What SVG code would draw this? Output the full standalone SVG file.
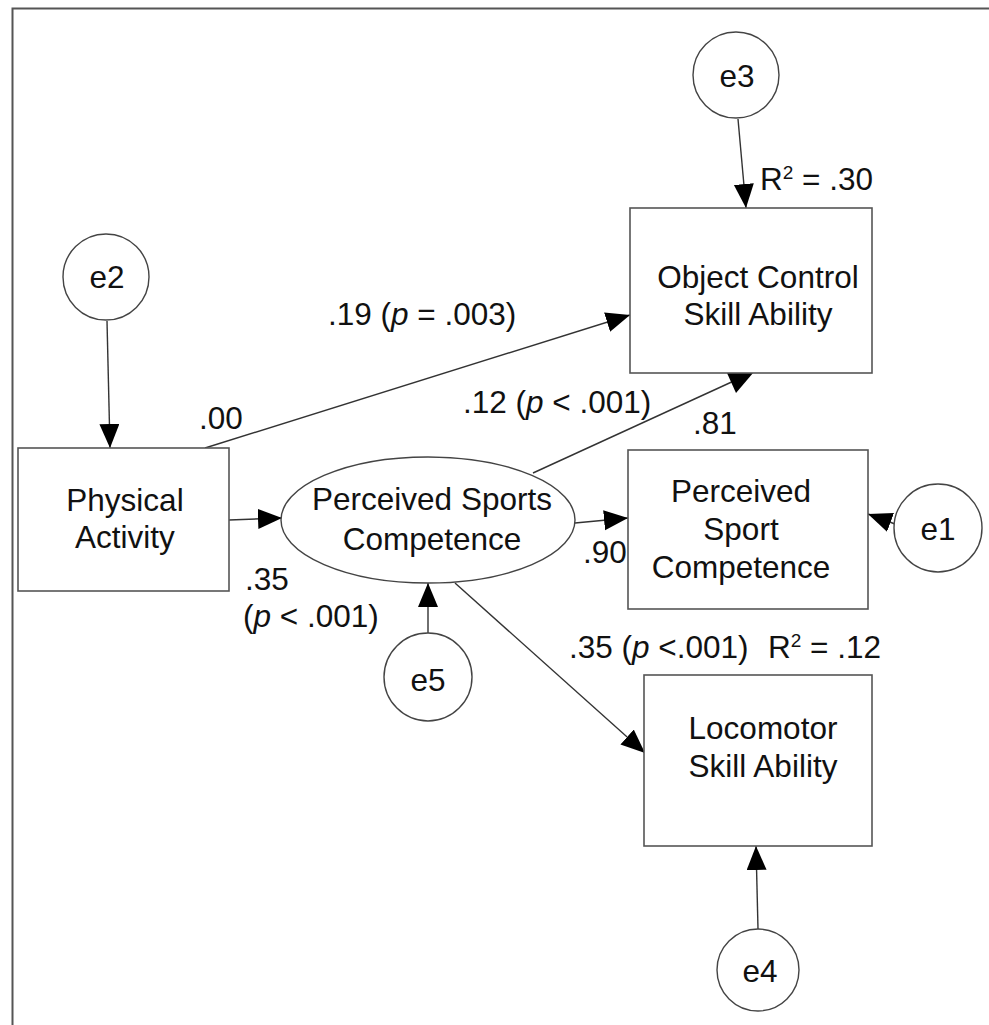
<svg xmlns="http://www.w3.org/2000/svg" width="989" height="1025" viewBox="0 0 989 1025">
<defs>
<marker id="ah" markerUnits="userSpaceOnUse" markerWidth="26" markerHeight="22" refX="24" refY="10" orient="auto">
<path d="M0,0 L24,10 L0,20 z" fill="#000"/>
</marker>
<style>
.t{font-family:"Liberation Sans",Arial,sans-serif;font-size:31.5px;fill:#111}
.m{text-anchor:middle}
.box{fill:#fff;stroke:#555;stroke-width:1.6}
.c{fill:#fff;stroke:#444;stroke-width:1.4}
.e{stroke:#333;stroke-width:1.4;fill:none}
.a{marker-end:url(#ah)}
</style>
</defs>
<rect width="989" height="1025" fill="#fff"/>
<path d="M12.5,1025 V8.5 H989" fill="none" stroke="#555" stroke-width="2"/>

<g id="connectors">
<line class="e a" x1="738" y1="119" x2="746" y2="208"/>
<line class="e a" x1="107" y1="321" x2="110" y2="448"/>
<line class="e a" x1="205" y1="448" x2="630" y2="315"/>
<line class="e a" x1="229" y1="520" x2="282" y2="518"/>
<line class="e" x1="533" y1="473" x2="736" y2="380"/>
<polygon points="727,373 753,373 736,393" fill="#000"/>
<line class="e a" x1="575" y1="523" x2="628" y2="518"/>
<line class="e a" x1="895" y1="524" x2="868" y2="514"/>
<line class="e a" x1="455" y1="583" x2="645" y2="753"/>
<line class="e a" x1="428" y1="633" x2="428" y2="583"/>
<line class="e a" x1="758" y1="929" x2="756" y2="846"/>
</g>

<g id="labels">
<text class="t" x="760" y="190">R<tspan dy="-11" font-size="19">2</tspan><tspan dy="11"> = .30</tspan></text>
<text class="t" x="328" y="325">.19 (<tspan font-style="italic">p</tspan> = .003)</text>
<text class="t" x="199" y="429">.00</text>
<text class="t" x="463" y="413">.12 (<tspan font-style="italic">p</tspan> &lt; .001)</text>
<text class="t" x="693" y="434">.81</text>
<text class="t" x="583" y="563">.90</text>
<text class="t" x="245" y="590">.35</text>
<text class="t" x="243" y="627">(<tspan font-style="italic">p</tspan> &lt; .001)</text>
<text class="t" x="569" y="658">.35 (<tspan font-style="italic">p</tspan> &lt;.001)</text>
<text class="t" x="768" y="658">R<tspan dy="-11" font-size="19">2</tspan><tspan dy="11"> = .12</tspan></text>
</g>

<g id="e3"><circle class="c" cx="736" cy="75" r="43"/><text class="t m" x="737" y="87">e3</text></g>
<g id="e2"><circle class="c" cx="106" cy="277" r="43"/><text class="t m" x="107" y="288">e2</text></g>
<g id="e1"><circle class="c" cx="938" cy="528" r="44"/><text class="t m" x="938" y="540">e1</text></g>
<g id="e5"><circle class="c" cx="428" cy="677" r="44"/><text class="t m" x="428" y="691">e5</text></g>
<g id="e4"><circle class="c" cx="758" cy="970" r="41"/><text class="t m" x="760" y="982">e4</text></g>

<g id="object-control"><rect class="box" x="630" y="208" width="242" height="165"/>
<text class="t m" x="758" y="288">Object Control</text><text class="t m" x="758" y="325">Skill Ability</text></g>
<g id="physical-activity"><rect class="box" x="18" y="448" width="211" height="143"/>
<text class="t m" x="125" y="511">Physical</text><text class="t m" x="125" y="548">Activity</text></g>
<g id="perceived-sports-competence"><ellipse class="c" cx="428" cy="520" rx="147" ry="63"/>
<text class="t m" x="432" y="510">Perceived Sports</text><text class="t m" x="432" y="550">Competence</text></g>
<g id="perceived-sport-competence"><rect class="box" x="628" y="450" width="240" height="159"/>
<text class="t m" x="741" y="502">Perceived</text><text class="t m" x="741" y="540">Sport</text><text class="t m" x="741" y="578">Competence</text></g>
<g id="locomotor"><rect class="box" x="644" y="675" width="228" height="171"/>
<text class="t m" x="763" y="739">Locomotor</text><text class="t m" x="763" y="777">Skill Ability</text></g>
</svg>
